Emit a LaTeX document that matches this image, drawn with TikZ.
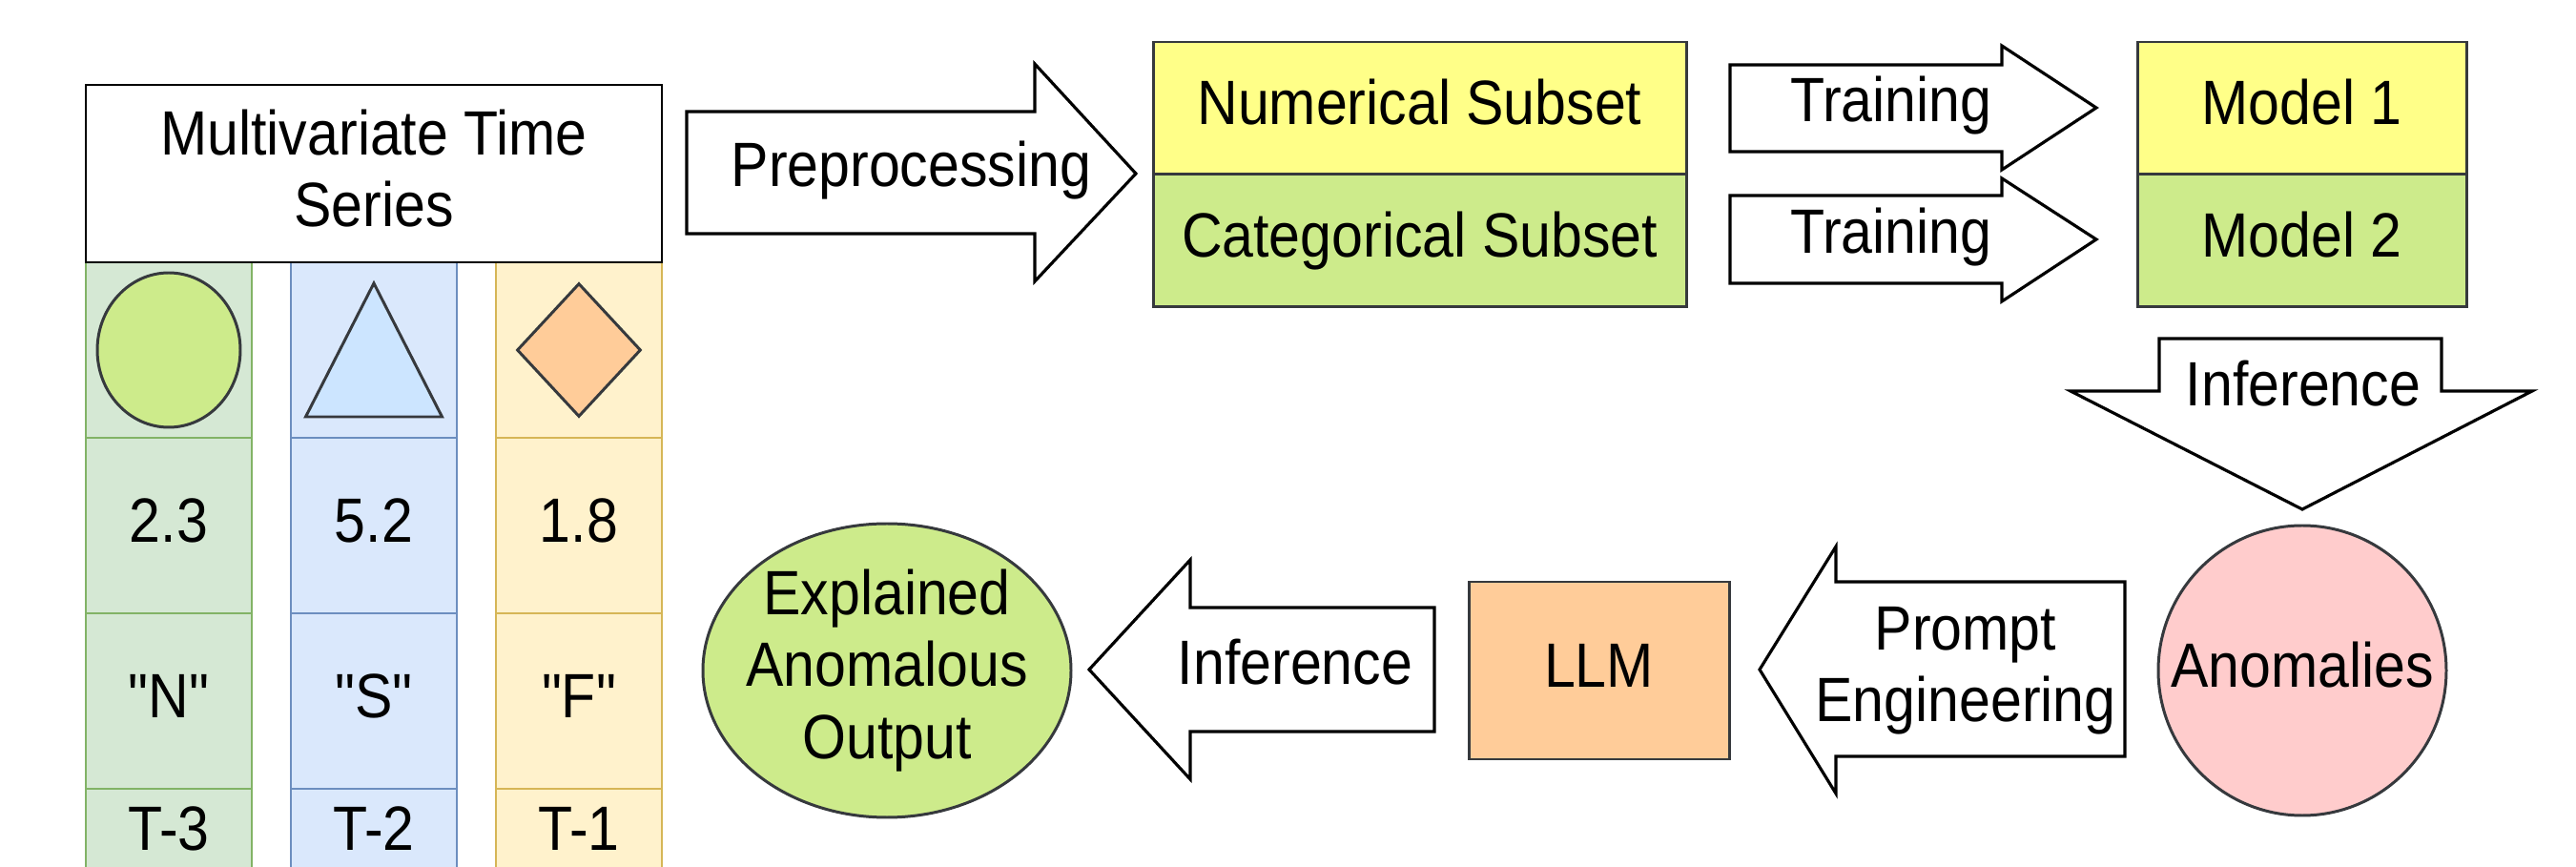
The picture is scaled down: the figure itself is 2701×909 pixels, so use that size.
\documentclass[tikz,border=0pt]{standalone}
\usepackage{fontspec}
\setmainfont{Liberation Sans}[FakeStretch=0.9, Ligatures=TeXOff]
\usetikzlibrary{shapes.geometric}
\usetikzlibrary{positioning}
\usetikzlibrary{calc}
\definecolor{gfill}{HTML}{D5E8D4}
\definecolor{gline}{HTML}{82B366}
\definecolor{bfill}{HTML}{DAE8FC}
\definecolor{bline}{HTML}{6C8EBF}
\definecolor{ofill}{HTML}{FFF2CC}
\definecolor{oline}{HTML}{D6B656}
\definecolor{lgreen}{HTML}{CDEB8B}
\definecolor{lblue}{HTML}{CCE5FF}
\definecolor{peach}{HTML}{FFCC99}
\definecolor{lyellow}{HTML}{FFFF88}
\definecolor{rose}{HTML}{FFCCCC}
\definecolor{edge}{HTML}{36393D}

\begin{document}
\begin{tikzpicture}[x=0.1mm, y=-0.1mm,
    font=\fontsize{18.67pt}{21.4pt}\selectfont,
    one/.style={text height=13.6pt, text depth=3.9pt},
    cell/.style={rectangle, one, line width=0.85pt, minimum width=17.4mm, minimum height=18.4mm, inner sep=0pt, outer sep=0pt},
    box/.style={rectangle, one, draw=edge, line width=0.85pt, inner sep=0pt, outer sep=0pt},
    blob/.style={ellipse, draw=edge, line width=0.85pt, inner xsep=-5mm, inner ysep=0pt},
    blockarrow/.style={draw=black, fill=white, line width=0.9pt},
    lbl/.style={one, inner sep=0pt}]
    \useasboundingbox (0,0) rectangle (2701,909);

    % the three variables of the series
    \foreach \n/\x/\fc/\lc/\val/\kv/\tm in {1/177/gfill/gline/2.3/"N"/T-3, 2/392/bfill/bline/5.2/"S"/T-2, 3/607/ofill/oline/1.8/"F"/T-1}{
        \node[cell, fill=\fc, draw=\lc] (s\n) at (\x,367) {};
        \node[cell, fill=\fc, draw=\lc, below=0pt of s\n] (v\n) {\val};
        \node[cell, fill=\fc, draw=\lc, below=0pt of v\n] (k\n) {\kv};
        \node[cell, fill=\fc, draw=\lc, below=0pt of k\n, minimum height=9.4mm] (t\n) {\tm};
    }
    \node[ellipse, draw=edge, fill=lgreen, line width=0.85pt, minimum width=15mm, minimum height=16.2mm, inner sep=0pt] (circ) at (s1) {};
    \draw[draw=edge, fill=lblue, line width=0.85pt] ($(s2)+(0,-70)$) -- ($(s2)+(71.5,70)$) -- ($(s2)+(-71.5,70)$) -- cycle;
    \node[diamond, draw=edge, fill=peach, line width=0.85pt, minimum width=13mm, minimum height=14mm, inner sep=0pt] (diam) at (s3) {};
    \node[draw=black, fill=white, line width=0.85pt, minimum width=60.4mm, minimum height=18.6mm, inner sep=0pt, outer sep=0pt, align=center, above=0pt of s2] (mts) {Multivariate Time\\Series\rule[-1.2mm]{0pt}{0pt}};

    % subsets, models and results
    \node[box, fill=lyellow, minimum width=55.9mm, minimum height=13.9mm] (num) at (1488.5,113.5) {Numerical Subset};
    \node[box, fill=lgreen, minimum width=55.9mm, minimum height=13.9mm, below=0pt of num] (cat) {Categorical Subset};
    \node[box, fill=lyellow, minimum width=34.5mm, minimum height=13.9mm] (mod1) at (2413.5,113.5) {Model 1};
    \node[box, fill=lgreen, minimum width=34.5mm, minimum height=13.9mm, below=0pt of mod1] (mod2) {Model 2};
    \node[blob, fill=rose, one, minimum width=30.2mm, minimum height=30.4mm] (anom) at (2414,703) {Anomalies};
    \node[box, fill=peach, minimum width=27.3mm, minimum height=18.6mm] (llm) at (1676.5,703) {LLM};
    \node[blob, fill=lgreen, align=center, minimum width=38.6mm, minimum height=30.8mm] (expl) at (930,703) {Explained\\Anomalous\\Output};

    % block arrows
    \draw[blockarrow] (720,117) -- (1085,117) -- (1085,67) -- (1191,182) -- (1085,295) -- (1085,245) -- (720,245) -- cycle;
    \draw[blockarrow] (1814,68) -- (2099,68) -- (2099,48) -- (2198,113) -- (2099,178) -- (2099,159) -- (1814,159) -- cycle;
    \draw[blockarrow] (1814,205) -- (2099,205) -- (2099,187) -- (2198,251) -- (2099,316) -- (2099,297) -- (1814,297) -- cycle;
    \draw[blockarrow] (2264,355) -- (2560,355) -- (2560,410) -- (2655,410) -- (2414,534) -- (2171,410) -- (2264,410) -- cycle;
    \draw[blockarrow] (2228,610) -- (1925,610) -- (1925,573) -- (1845,702) -- (1925,832) -- (1925,793) -- (2228,793) -- cycle;
    \draw[blockarrow] (1504,637) -- (1248,637) -- (1248,587) -- (1142,702) -- (1248,817) -- (1248,767) -- (1504,767) -- cycle;
    \node[lbl] (prep) at (955.5,178) {Preprocessing};
    \node[lbl] (train1) at (1983,110) {Training};
    \node[lbl] (train2) at (1983,248) {Training};
    \node[lbl] (infer1) at (2415,408) {Inference};
    \node[align=center, inner sep=0pt] (prompt) at (2061,703.5) {Prompt\\Engineering};
    \node[lbl] (infer2) at (1358,700) {Inference};
\end{tikzpicture}
\end{document}
